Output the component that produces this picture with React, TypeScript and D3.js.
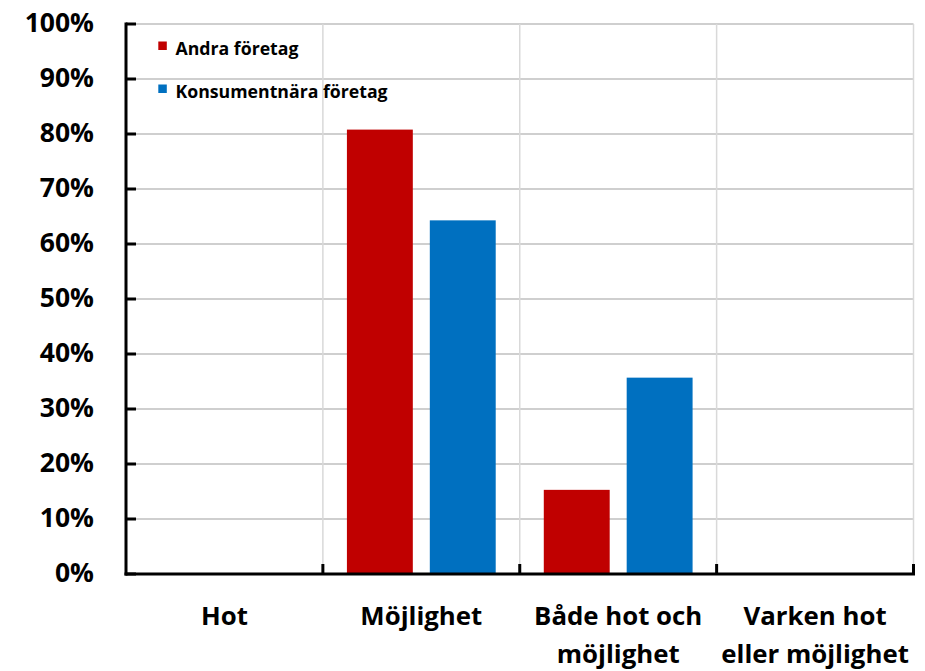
import * as d3 from "d3";

// categories along the x axis (each entry = lines of the label)
const categories = ["Hot", "Möjlighet", "Både hot och möjlighet", "Varken hot eller möjlighet"];
const categoryLines = [["Hot"], ["Möjlighet"], ["Både hot och", "möjlighet"], ["Varken hot", "eller möjlighet"]];

const seriesNames = ["Andra företag", "Konsumentnära företag"];
const seriesColors = ["#C00000", "#0070C0"];

// share of respondents, percent
const andraForetag = [0, 80.8, 15.3, 0];
const konsumentnaraForetag = [0, 64.3, 35.7, 0];

const yTicks = [0, 10, 20, 30, 40, 50, 60, 70, 80, 90, 100];

const W = 925;
const H = 671;
const FONT = "'Open Sans', Lato, sans-serif";

export default function App() {
  const left = 126;
  const right = 913.5;
  const top = 24;
  const bottom = 574;

  const x0 = d3.scaleBand<string>().domain(categories).range([left, right]).padding(0);
  const x1 = d3
    .scaleBand<string>()
    .domain(seriesNames)
    .range([0, x0.bandwidth()])
    .paddingInner(0.205)
    .paddingOuter(0.29);
  const y = d3.scaleLinear().domain([0, 100]).range([bottom, top]);

  const values = [andraForetag, konsumentnaraForetag];
  const boundaries = categories.map((c) => x0(c)! + x0.bandwidth());

  return (
    <svg width={W} height={H} style={{ display: "block", background: "#fff" }} fontFamily={FONT}>
      <style>{`body{margin:0}`}</style>

      {/* horizontal grid */}
      {yTicks.slice(1).map((t) => (
        <line key={"h" + t} x1={left} x2={right} y1={y(t)} y2={y(t)} stroke="#bfbfbf" strokeWidth={1.3} />
      ))}
      {/* vertical grid at category boundaries */}
      {boundaries.map((b, i) => (
        <line key={"v" + i} x1={b} x2={b} y1={top} y2={bottom} stroke="#d9d9d9" strokeWidth={1.5} />
      ))}

      {/* bars */}
      {categories.map((c, ci) =>
        seriesNames.map((s, si) => {
          const v = values[si][ci];
          if (!v) return null;
          return (
            <rect
              key={c + s}
              x={x0(c)! + x1(s)!}
              y={y(v)}
              width={x1.bandwidth()}
              height={y(0) - y(v)}
              fill={seriesColors[si]}
            />
          );
        })
      )}

      {/* y axis */}
      <line x1={left} x2={left} y1={top - 1.5} y2={bottom + 1.5} stroke="#000" strokeWidth={3} />
      {yTicks.map((t) => (
        <g key={"yt" + t}>
          <line x1={left} x2={left + 10} y1={y(t)} y2={y(t)} stroke="#000" strokeWidth={3} />
          <text
            x={94}
            y={y(t)}
            dy="0.32em"
            textAnchor="end"
            fontSize={26.5}
            fontWeight={700}
            fill="#000"
          >
            {t + "%"}
          </text>
        </g>
      ))}

      {/* x axis */}
      <line x1={left - 1.5} x2={right + 1.5} y1={bottom} y2={bottom} stroke="#000" strokeWidth={3} />
      {boundaries.map((b, i) => (
        <line key={"xt" + i} x1={b} x2={b} y1={bottom} y2={bottom - 10} stroke="#000" strokeWidth={3} />
      ))}
      {categories.map((c, ci) =>
        categoryLines[ci].map((ln, li) => (
          <text
            key={c + li}
            x={x0(c)! + x0.bandwidth() / 2}
            y={624.5 + li * 38.5}
            textAnchor="middle"
            fontSize={25.8}
            fontWeight={700}
            fill="#000"
          >
            {ln}
          </text>
        ))
      )}

      {/* legend */}
      {seriesNames.map((s, si) => (
        <g key={"lg" + s}>
          <rect x={158.3} y={41.5 + si * 43} width={8.5} height={8.5} fill={seriesColors[si]} />
          <text x={175.5} y={54.5 + si * 43} fontSize={17.7} fontWeight={700} fill="#000">
            {s}
          </text>
        </g>
      ))}
    </svg>
  );
}
